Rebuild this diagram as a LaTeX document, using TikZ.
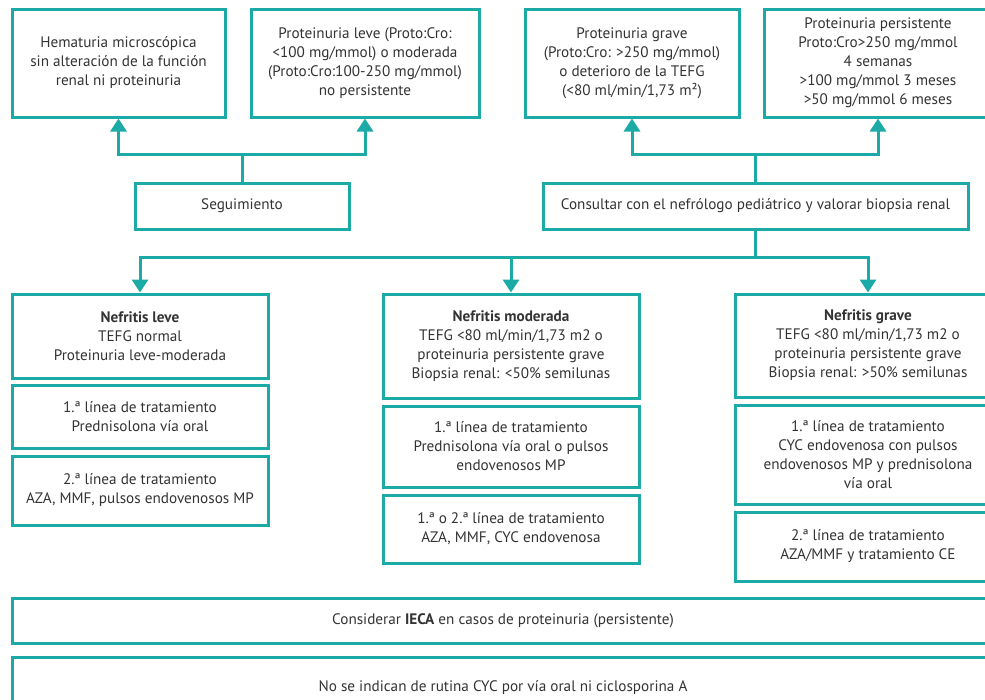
\documentclass[tikz,border=0pt]{standalone}
\usepackage{fontspec}
\setmainfont{PT Sans}
\usetikzlibrary{arrows.meta,positioning}
\definecolor{tealline}{RGB}{27,170,166}

\begin{document}
\begin{tikzpicture}[x=1pt, y=-1pt, font=\fontsize{15.2}{19}\selectfont]
    \tikzstyle{box}   = [draw=tealline, line width=3pt, rectangle, align=center, text=black!80, inner sep=2pt]
    \tikzstyle{line}  = [draw=tealline, line width=3pt]
    \tikzstyle{arrow} = [line, -{Triangle[width=16pt,length=13pt]}]

    \useasboundingbox (0,0) rectangle (985,699);

    % top row
    \node [box, minimum width=213pt, minimum height=108pt] (hema) at (118.5,63) {Hematuria microscópica\\sin alteración de la función\\renal ni proteinuria};
    \node [box, minimum width=228pt, minimum height=108pt] (leve) at (365,63) {Proteinuria leve (Proto:Cro:\\<100 mg/mmol) o moderada\\(Proto:Cro:100-250 mg/mmol)\\no persistente};
    \node [box, minimum width=214pt, minimum height=108pt] (grave) at (632,63) {Proteinuria grave\\(Proto:Cro: >250 mg/mmol)\\o deterioro de la TEFG\\(<80 ml/min/1,73 m²)};
    \node [box, minimum width=228pt, minimum height=108pt] (persist) at (878,63) {Proteinuria persistente\\Proto:Cro>250 mg/mmol\\4 semanas\\>100 mg/mmol 3 meses\\>50 mg/mmol 6 meses};

    \node [box, minimum width=214pt, minimum height=46pt] (segui) at (242,206) {Seguimiento};
    \node [box, minimum width=425pt, minimum height=46pt] (consult) at (755.5,206) {Consultar con el nefrólogo pediátrico y valorar biopsia renal};

    % nefritis columns
    \node [box, minimum width=256pt, minimum height=84pt] (leveA) at (140,336) {\textbf{Nefritis leve}\\TEFG normal\\Proteinuria leve-moderada};
    \node [box, minimum width=256pt, minimum height=63pt, below=4pt of leveA] (leveB) {1.ª línea de tratamiento\\Prednisolona vía oral};
    \node [box, minimum width=256pt, minimum height=69pt, below=5pt of leveB] (leveC) {2.ª línea de tratamiento\\AZA, MMF, pulsos endovenosos MP};

    \node [box, minimum width=256pt, minimum height=104pt] (modA) at (511,346) {\textbf{Nefritis moderada}\\TEFG <80 ml/min/1,73 m2 o\\proteinuria persistente grave\\Biopsia renal: <50\% semilunas};
    \node [box, minimum width=256pt, minimum height=81pt, below=5pt of modA] (modB) {1.ª línea de tratamiento\\Prednisolona vía oral o pulsos\\endovenosos MP};
    \node [box, minimum width=256pt, minimum height=68pt, below=5pt of modB] (modC) {1.ª o 2.ª línea de tratamiento\\AZA, MMF, CYC endovenosa};

    \node [box, minimum width=266pt, minimum height=103pt] (graveA) at (868,345.5) {\textbf{Nefritis grave}\\TEFG <80 ml/min/1,73 m2 o\\proteinuria persistente grave\\Biopsia renal: >50\% semilunas};
    \node [box, minimum width=266pt, minimum height=99pt, below=5pt of graveA] (graveB) {1.ª línea de tratamiento\\CYC endovenosa con pulsos\\endovenosos MP y prednisolona\\vía oral};
    \node [box, minimum width=266pt, minimum height=69pt, below=5pt of graveB] (graveC) {2.ª línea de tratamiento\\AZA/MMF y tratamiento CE};

    % notes
    \node [box, minimum width=982pt, minimum height=45pt] (ieca) at (503,620.5) {Considerar \textbf{IECA} en casos de proteinuria (persistente)};
    \node [box, minimum width=982pt, minimum height=62pt] (rutina) at (503,688) {No se indican de rutina CYC por vía oral ni ciclosporina A};

    \coordinate (hubL) at (242,154);
    \coordinate (hubR) at (755.5,154);
    \coordinate (hubB) at (755.5,257);

    % Connections
    \draw [line] (segui) -- (hubL);
    \draw [arrow] (hubL) -| (hema);
    \draw [arrow] (hubL) -| (leve);

    \draw [line] (consult) -- (hubR);
    \draw [arrow] (hubR) -| (grave);
    \draw [arrow] (hubR) -| (persist);

    \draw [line] (consult) -- (hubB);
    \draw [arrow] (hubB) -| (leveA);
    \draw [arrow] (hubB) -| (modA);
    \draw [arrow] (hubB) -| (graveA);

\end{tikzpicture}
\end{document}
